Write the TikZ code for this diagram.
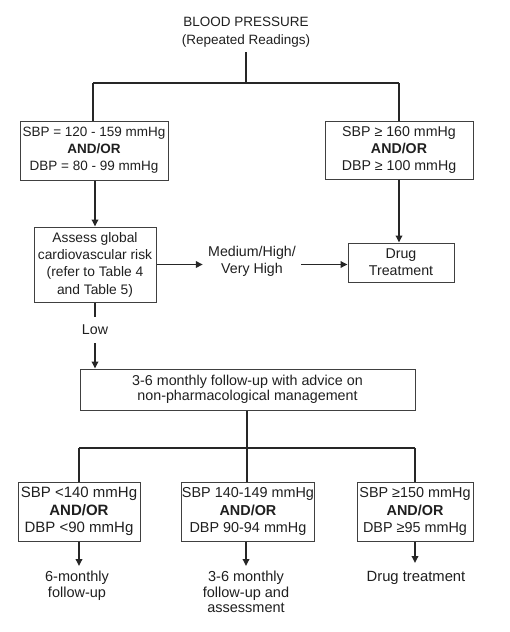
\documentclass[tikz,border=0pt]{standalone}
\usepackage{fontspec}
\setmainfont{Liberation Sans}
\usetikzlibrary{arrows.meta}
\begin{document}
\begin{tikzpicture}[x=1pt,y=-1pt,
  txt/.style={font=\fontsize{14.2}{17}\selectfont, align=center, text=black!88, inner sep=0pt},
  tight/.style={font=\fontsize{14.2}{15.5}\selectfont},
  box/.style={txt, draw=black!75, line width=1pt},
  conn/.style={draw=black!85, line width=1.7pt},
  arr/.style={conn, -{Triangle[length=7pt,width=6.5pt]}}]
\useasboundingbox (0,0) rectangle (510,632);

% title
\node[txt, font=\fontsize{13.5}{18}\selectfont, inner ysep=5pt] (title) at (246,32) {BLOOD PRESSURE\\(Repeated Readings)};

% first level boxes
\node[box, font=\fontsize{13.5}{17}\selectfont, minimum width=148pt, minimum height=59pt] (L1) at (94,150.5) {SBP = 120 - 159 mmHg\\\textbf{AND/OR}\\DBP = 80 - 99 mmHg};
\node[box, minimum width=148pt, minimum height=58pt] (R1) at (399,150) {SBP ≥ 160 mmHg\\\textbf{AND/OR}\\DBP ≥ 100 mmHg};

\coordinate (j0) at (246,83);
\coordinate (jl) at (93,83);
\coordinate (jr) at (399,83);
\draw[conn] (title.south) -- (j0);
\draw[conn] (jl) -- (jr);
\draw[conn] (jl) -- (jl |- L1.north);
\draw[conn] (jr) -- (jr |- R1.north);

% second level
\node[box, font=\fontsize{13.8}{17.3}\selectfont, minimum width=122pt, minimum height=75pt] (A) at (95,264.5) {Assess global\\cardiovascular risk\\(refer to Table 4\\and Table 5)};
\node[box, minimum width=106pt, minimum height=39pt] (D) at (401,262.5) {Drug\\Treatment};
\node[txt, minimum width=98pt] (M) at (252,261) {Medium/High/\\Very High};

\draw[arr] (A.north |- L1.south) -- (A.north);
\draw[arr] (R1.south) -- (R1.south |- D.north);
\draw[arr] (A.east) -- (A.east -| M.west);
\draw[arr] (M.east |- A.east) -- (D.west |- A.east);

% low
\node[txt, minimum height=26pt] (low) at (95,330) {Low};
\node[box, tight, font=\fontsize{14.3}{15.5}\selectfont, minimum width=335pt, minimum height=41pt] (F) at (247.5,389.5) {3-6 monthly follow-up with advice on\\non-pharmacological management};
\draw[conn] (A.south) -- (low.north);
\draw[arr] (low.south) -- (low.south |- F.north);

% third level
\node[box, font=\fontsize{15}{17.5}\selectfont, minimum width=122pt, minimum height=59pt] (B1) at (79,511.5) {SBP <140 mmHg\\\textbf{AND/OR}\\DBP <90 mmHg};
\node[box, font=\fontsize{14.4}{17.5}\selectfont, minimum width=132pt, minimum height=59pt] (B2) at (248,511.5) {SBP 140-149 mmHg\\\textbf{AND/OR}\\DBP 90-94 mmHg};
\node[box, font=\fontsize{14.4}{17.5}\selectfont, minimum width=116pt, minimum height=59pt] (B3) at (415,511.5) {SBP ≥150 mmHg\\\textbf{AND/OR}\\DBP ≥95 mmHg};

\coordinate (k0) at (247,448);
\coordinate (kl) at (79,448);
\coordinate (kr) at (415,448);
\draw[conn] (k0 |- F.south) -- (k0);
\draw[conn] (kl) -- (kr);
\draw[conn] (kl) -- (kl |- B1.north);
\draw[conn] (k0) -- (k0 |- B2.north);
\draw[conn] (kr) -- (kr |- B3.north);

% outcomes
\node[txt, tight, font=\fontsize{14.5}{15.8}\selectfont, inner ysep=5pt, anchor=north] (O1) at (77,566) {6-monthly\\follow-up};
\node[txt, tight, font=\fontsize{14.5}{15.5}\selectfont, inner ysep=5pt, anchor=north] (O2) at (246,566) {3-6 monthly\\follow-up and\\assessment};
\node[txt, font=\fontsize{14.8}{17}\selectfont, inner ysep=8pt, anchor=north] (O3) at (416,563) {Drug treatment};

\draw[arr] (B1.south) -- (B1.south |- O1.north);
\draw[arr] (B2.south -| O2.north) -- (O2.north);
\draw[arr] (B3.south) -- (B3.south |- O3.north);
\end{tikzpicture}
\end{document}
